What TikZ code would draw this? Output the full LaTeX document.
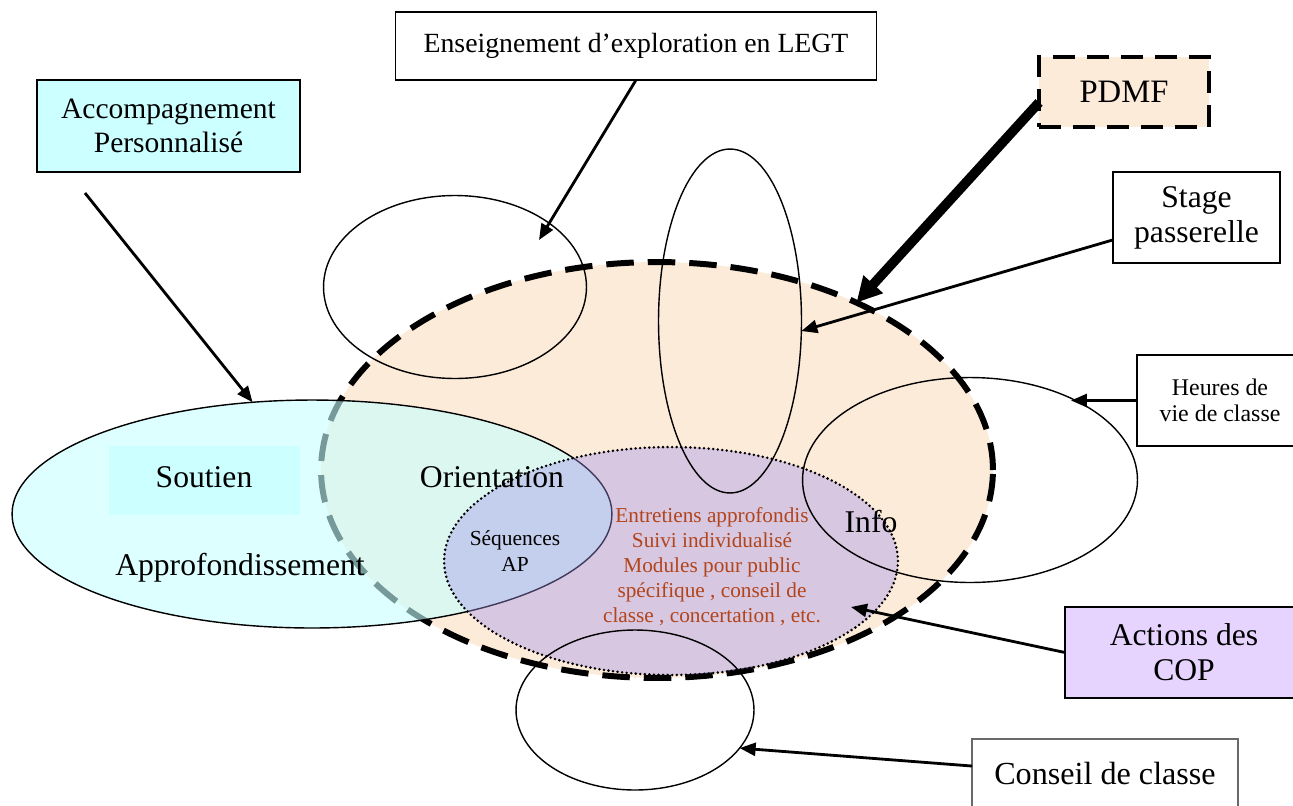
\documentclass[tikz,border=0pt]{standalone}
\usepackage{fontspec}
\setmainfont{Liberation Serif}
\usepackage{tikz}
\usetikzlibrary{shapes.geometric}
\usetikzlibrary{arrows.meta}

\definecolor{peach}{RGB}{253,235,218}
\definecolor{apcyan}{RGB}{198,255,255}
\definecolor{soutcyan}{RGB}{204,255,255}
\definecolor{copviolet}{RGB}{160,147,233}
\definecolor{copfill}{RGB}{230,212,255}
\definecolor{copred}{RGB}{178,68,28}
\definecolor{cdcgray}{RGB}{105,105,105}

\begin{document}
\begin{tikzpicture}
[   x=0.02cm,
    y=-0.02cm,
    inner sep=0pt,
    outer sep=0pt,
    zone/.style={ellipse, draw, line width=0.8pt},
    box/.style={rectangle, draw, line width=0.8pt, align=center},
    txtbig/.style={font=\fontsize{18}{20}\selectfont, align=center},
    txtacc/.style={font=\fontsize{16.8}{19}\selectfont, align=center},
    txtmid/.style={font=\fontsize{15.8}{18}\selectfont, align=center},
    txthvc/.style={font=\fontsize{13.6}{14.5}\selectfont, align=center},
    txtsmall/.style={font=\fontsize{12.2}{14.5}\selectfont, align=center},
    txtred/.style={font=\fontsize{12.1}{14.2}\selectfont, align=center, text=copred},
    link/.style={-{Triangle[length=0.32cm,width=0.26cm]}, line width=1.6pt}
]
\useasboundingbox (0,0) rectangle (1293,805);
\clip (0,0) rectangle (1293,805);

% zones
\node[zone, fill=peach, line width=3.4pt, dash pattern=on 0.55cm off 0.28cm,
      minimum width=13.44cm, minimum height=8.32cm] (orzone) at (657,470) {};
\node[zone, fill=apcyan, fill opacity=0.6,
      minimum width=12cm, minimum height=4.56cm] (apzone) at (312,514) {};
\node[fill=soutcyan, minimum width=3.82cm, minimum height=1.38cm] (soutbox) at (204.5,480.5) {};
\node[zone, fill=copviolet, fill opacity=0.4, line width=1.6pt, line cap=round,
      dash pattern=on 0pt off 2.6pt,
      minimum width=9.08cm, minimum height=4.56cm] (copzone) at (671,561) {};
\node[zone, minimum width=5.26cm, minimum height=3.66cm] (explzone) at (455,287) {};
\node[zone, minimum width=2.86cm, minimum height=6.88cm] (stagezone) at (730,321) {};
\node[zone, minimum width=6.7cm, minimum height=4.1cm] (hvczone) at (970,480) {};
\node[zone, minimum width=4.76cm, minimum height=3.2cm] (cdczone) at (635,710) {};

% labels
\node[txtbig] (soutien) at (204,477) {Soutien};
\node[txtbig] (orient) at (492,477) {Orientation};
\node[txtbig] (approf) at (240,568) {Approfondissement};
\node[txtsmall] (seqap) at (515,551) {Séquences\\AP};
\node[txtbig] (info) at (871,522) {Info};
\node[txtred] (copacts) at (712,567) {Entretiens approfondis\\Suivi individualisé\\Modules pour public\\spécifique , conseil de\\classe , concertation , etc.};

% boxes
\node[box, txtmid, minimum width=9.62cm, minimum height=1.36cm] (expl) at (636,46) {Enseignement d’exploration en LEGT};
\node[box, txtacc, fill=soutcyan, minimum width=5.26cm, minimum height=1.84cm] (acc) at (168.5,126) {Accompagnement\\Personnalisé};
\node[box, txtbig, font=\fontsize{18.6}{20}\selectfont, fill=peach, line width=2.8pt, dash pattern=on 0.44cm off 0.24cm,
      minimum width=3.4cm, minimum height=1.4cm] (pdmf) at (1124,92) {PDMF};
\node[box, txtbig, minimum width=3.34cm, minimum height=1.82cm] (stage) at (1196.5,217.5) {Stage\\passerelle};
\node[box, txthvc, minimum width=3.32cm, minimum height=1.82cm] (hvc) at (1220,400.5) {Heures de\\vie de classe};
\node[box, txtbig, fill=copfill, minimum width=4.76cm, minimum height=1.82cm] (copbox) at (1184,652.5) {Actions des\\COP};
\node[box, txtbig, font=\fontsize{18.3}{20}\selectfont, draw=cdcgray, line width=1.1pt, minimum width=5.32cm, minimum height=1.36cm] (cdc) at (1105,773) {Conseil de classe};

% arrows
\coordinate (acctail) at (85,193);
\coordinate (expltip) at (539,240);
\coordinate (coptip) at (851,607);
\draw[link] (acctail) -- (apzone.118);
\draw[link] (expl.south) -- (expltip);
\draw[link, line width=5.5pt, -{Triangle[length=0.5cm,width=0.5cm]}] (pdmf.187) -- (orzone.40);
\draw[link] (stage.195) -- (stagezone.-8);
\draw[link] (hvc.west) -- (hvc.west -| hvczone.39);
\draw[link] (copbox.west) -- (coptip);
\draw[link] (cdc.177) -- (cdczone.-20);
\end{tikzpicture}
\end{document}
